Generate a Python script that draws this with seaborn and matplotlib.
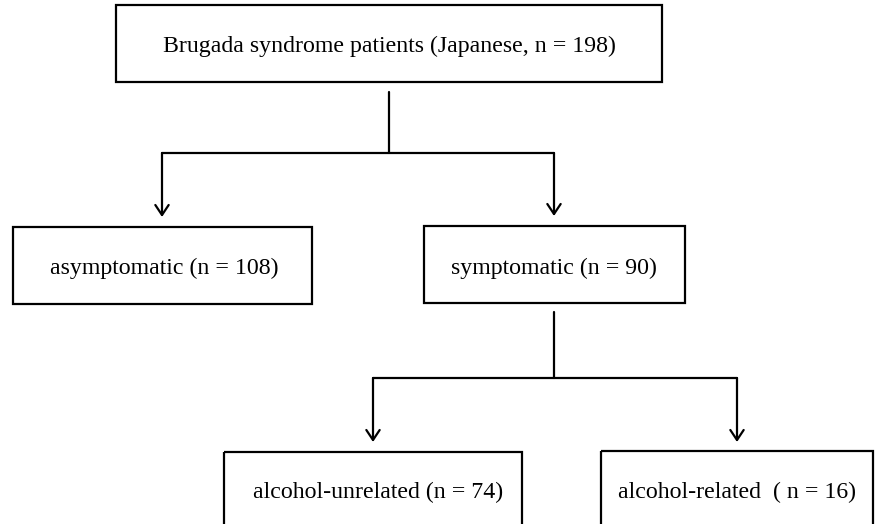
import matplotlib
matplotlib.use("Agg")
import matplotlib.pyplot as plt
from matplotlib.patches import Rectangle
import seaborn as sns
import pandas as pd

# ---- data ----
node_names = ["Brugada syndrome patients", "asymptomatic", "symptomatic",
              "alcohol-unrelated", "alcohol-related"]
node_counts = [198, 108, 90, 74, 16]
node_labels = [
    f"{node_names[0]} (Japanese, n = {node_counts[0]})",
    f"{node_names[1]} (n = {node_counts[1]})",
    f"{node_names[2]} (n = {node_counts[2]})",
    f"{node_names[3]} (n = {node_counts[3]})",
    f"{node_names[4]}  ( n = {node_counts[4]})",
]

# ---- layout (pixel coordinates, y downward) ----
boxes = [  # x0, y0, x1, y1
    (116, 5, 662, 82),
    (13, 227, 312, 304),
    (424, 226, 685, 303),
    (224, 452, 522, 540),
    (601, 451, 873, 540),
]
text_pos = [(389, 46), (164, 268), (554, 268), (378, 492), (737, 492)]

sns.set_theme(style="white")
plt.rcParams["font.family"] = ["Liberation Serif", "DejaVu Serif"]

fig = plt.figure(figsize=(8.75, 5.24), dpi=100)
ax = fig.add_axes([0, 0, 1, 1])
ax.set_xlim(0, 875)
ax.set_ylim(524, 0)
ax.axis("off")

LW = 1.6
for (x0, y0, x1, y1) in boxes:
    ax.add_patch(Rectangle((x0, y0), x1 - x0, y1 - y0, fill=False,
                           edgecolor="black", lw=LW))

for (tx, ty), lab in zip(text_pos, node_labels):
    ax.text(tx, ty, lab, ha="center", va="center", fontsize=17.2,
            color="black")

# connector segments (no arrowheads)
segs = pd.DataFrame({
    "x": [389, 389, 162, 554, 554, 554, 373, 737],
    "y": [92, 153, 153, 153, 312, 378, 378, 378],
    "seg": ["a", "a", "b", "b", "c", "c", "d", "d"],
})
sns.lineplot(data=segs, x="x", y="y", units="seg", estimator=None,
             sort=False, color="black", lw=LW, ax=ax, legend=False)
ax.set_xlim(0, 875)
ax.set_ylim(524, 0)

# arrows
arrows = [(162, 153, 217), (554, 153, 216), (373, 378, 442), (737, 378, 442)]
for x, ya, yb in arrows:
    ax.annotate("", xy=(x, yb), xytext=(x, ya),
                arrowprops=dict(arrowstyle="->,head_length=0.6,head_width=0.4",
                                lw=LW, color="black", shrinkA=0, shrinkB=0))

fig.savefig("out.png", dpi=100, facecolor="white")
